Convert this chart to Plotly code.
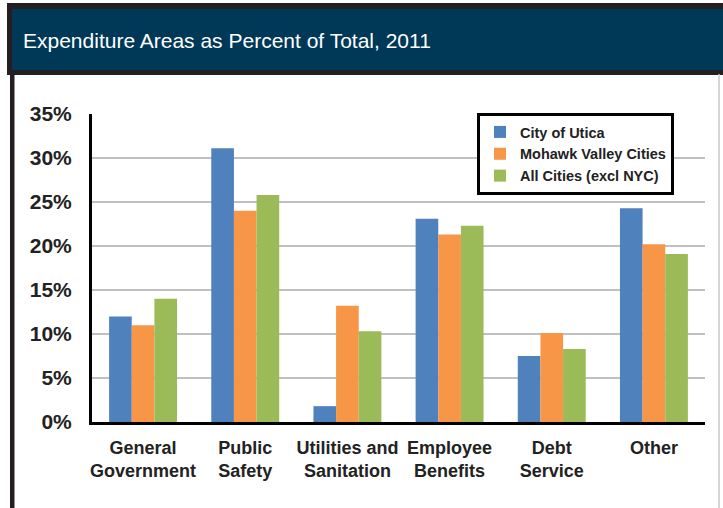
import plotly.graph_objects as go

categories = ["General<br>Government", "Public<br>Safety", "Utilities and<br>Sanitation",
              "Employee<br>Benefits", "Debt<br>Service", "Other"]
series_names = ["City of Utica", "Mohawk Valley Cities", "All Cities (excl NYC)"]
utica = [12.0, 31.1, 1.8, 23.1, 7.5, 24.3]
mohawk = [11.0, 24.0, 13.2, 21.3, 10.1, 20.2]
all_cities = [14.0, 25.8, 10.3, 22.3, 8.3, 19.1]
colors = ["#4f81bd", "#f79646", "#9bbb59"]
y_ticks = [0, 5, 10, 15, 20, 25, 30, 35]
y_tick_labels = ["0%", "5%", "10%", "15%", "20%", "25%", "30%", "35%"]

W, H = 723, 508
L, R, T, B = 92, 705, 114, 422  # plot area in pixels


def px(x):
    return (x - L) / (R - L)


def py(y):
    return (B - y) / (B - T)


fig = go.Figure()
for name, vals, col in zip(series_names, [utica, mohawk, all_cities], colors):
    fig.add_trace(go.Bar(x=categories, y=vals, name=name,
                         marker=dict(color=col, line=dict(width=0))))

shapes = [
    # header dark frame
    dict(type="rect", xref="paper", yref="paper", x0=px(7), x1=px(730), y0=py(75), y1=py(3),
         fillcolor="#231f20", line=dict(width=0), layer="below"),
    # header navy
    dict(type="rect", xref="paper", yref="paper", x0=px(12), x1=px(730), y0=py(70), y1=py(9),
         fillcolor="#003858", line=dict(width=0), layer="below"),
    # panel left border
    dict(type="rect", xref="paper", yref="paper", x0=px(10), x1=px(14.5), y0=py(515), y1=py(74),
         fillcolor="#231f20", line=dict(width=0), layer="below"),
    # panel right border
    dict(type="line", xref="paper", yref="paper", x0=px(719), x1=px(719), y0=py(515), y1=py(74),
         line=dict(color="#c8c8c8", width=1.5), layer="below"),
]

fig.update_layout(
    width=W, height=H,
    margin=dict(l=L, r=W - R, t=T, b=H - B, pad=0),
    paper_bgcolor="white", plot_bgcolor="white",
    barmode="group", bargap=0.335, bargroupgap=0,
    shapes=shapes,
    title=dict(text="Expenditure Areas as Percent of Total, 2011",
               xref="container", yref="container", x=23 / W, xanchor="left",
               y=1 - 41 / H, yanchor="middle",
               font=dict(family="Liberation Sans, Arial, sans-serif",
                         size=21, color="white")),
    font=dict(family="Liberation Sans, Arial, sans-serif", color="#222222"),
    legend=dict(x=px(477), y=py(113), xanchor="left", yanchor="top",
                bgcolor="white", bordercolor="black", borderwidth=3,
                font=dict(size=14.5, color="#222222", weight="bold"),
                traceorder="normal"),
    xaxis=dict(showline=True, linecolor="black", linewidth=3, ticks="",
               ticklabelstandoff=7,
               tickfont=dict(size=18, weight="bold", color="#222222"),
               showgrid=False, zeroline=False),
    yaxis=dict(range=[0, 35], tickmode="array", tickvals=y_ticks, ticktext=y_tick_labels,
               showline=True, linecolor="black", linewidth=3, ticks="",
               ticklabelstandoff=13,
               tickfont=dict(size=21, weight="bold", color="#222222"),
               showgrid=True, gridcolor="#c0c0c0", gridwidth=2, zeroline=False),
)

fig.write_html("out.html")
